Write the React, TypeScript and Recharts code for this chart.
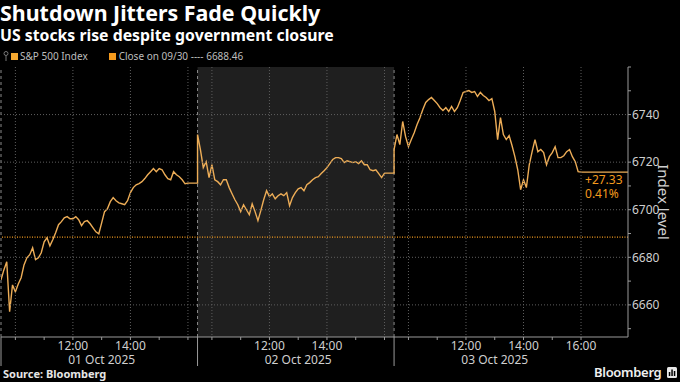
import React from "react";
import {
  ComposedChart, Line, XAxis, YAxis, ReferenceLine, ReferenceArea, ReferenceDot,
} from "recharts";

const SESSION_DATES = ["01 Oct 2025", "02 Oct 2025", "03 Oct 2025"];
const HOUR_TICKS = ["10:00", "11:00", "12:00", "13:00", "14:00", "15:00", "16:00"];
const TIME_LABELS = [["12:00", "14:00"], ["12:00", "14:00"], ["12:00", "14:00", "16:00"]];
const GRID_HOURS = ["10:00", "12:00", "14:00", "16:00"];
const DATE_AT = "13:00";
const Y_TICKS = [6650, 6660, 6670, 6680, 6690, 6700, 6710, 6720, 6730, 6740, 6750, 6760];
const Y_LABELED = [6660, 6680, 6700, 6720, 6740];
const PREV_CLOSE = 6688.46;

// S&P 500, one reading every 6 minutes from 09:30 to 16:00 (66 per session)
const oct01 = [
  6670.5, 6674.7, 6678.1, 6657.1, 6668.4, 6665.5, 6668.8, 6671.4, 6676.8, 6679.8,
  6681.1, 6684.0, 6679.0, 6679.8, 6681.9, 6686.5, 6688.2, 6684.8, 6687.4, 6690.3,
  6693.7, 6695.0, 6696.6, 6697.1, 6696.2, 6696.2, 6697.1, 6695.8, 6693.3, 6695.0,
  6695.4, 6694.1, 6692.4, 6690.7, 6689.9, 6694.5, 6699.2, 6700.4, 6703.4, 6705.1,
  6703.8, 6702.9, 6702.5, 6702.1, 6703.8, 6707.2, 6709.3, 6710.5, 6711.0, 6711.8,
  6713.1, 6714.7, 6716.0, 6717.3, 6716.0, 6717.3, 6716.8, 6714.7, 6713.1, 6712.6,
  6716.0, 6714.7, 6713.9, 6712.6, 6710.9, 6711.2,
];
const oct02 = [
  6731.6, 6725.3, 6717.7, 6720.2, 6713.5, 6719.0, 6712.6, 6711.8, 6710.5, 6712.6,
  6712.6, 6709.3, 6706.7, 6704.2, 6702.1, 6699.2, 6702.1, 6700.0, 6697.9, 6702.5,
  6699.2, 6695.4, 6699.6, 6704.2, 6708.0, 6705.5, 6706.7, 6704.6, 6705.9, 6706.7,
  6705.9, 6707.2, 6701.7, 6705.1, 6707.2, 6708.8, 6709.3, 6708.0, 6710.5, 6711.4,
  6712.6, 6713.5, 6713.9, 6715.2, 6716.4, 6717.7, 6719.4, 6721.1, 6721.9, 6721.9,
  6721.5, 6719.8, 6720.6, 6720.2, 6719.8, 6720.2, 6719.4, 6720.6, 6718.9, 6718.9,
  6716.8, 6716.4, 6716.8, 6715.2, 6713.5, 6715.4,
];
const oct03 = [
  6725.3, 6731.6, 6727.4, 6737.1, 6730.7, 6726.5, 6729.5, 6732.4, 6735.8, 6738.7,
  6742.1, 6745.1, 6746.3, 6747.2, 6745.9, 6744.6, 6742.9, 6741.7, 6742.9, 6741.3,
  6743.4, 6741.3, 6742.9, 6745.9, 6749.3, 6749.7, 6750.1, 6749.3, 6749.7, 6747.6,
  6749.3, 6748.0, 6747.2, 6745.9, 6746.7, 6741.3, 6729.5, 6738.7, 6731.6, 6729.5,
  6731.2, 6727.0, 6722.3, 6716.8, 6708.4, 6712.6, 6709.3, 6718.9, 6724.4, 6729.5,
  6724.4, 6725.3, 6724.0, 6718.9, 6722.3, 6724.0, 6726.5, 6721.9, 6721.9, 6722.7,
  6724.4, 6725.3, 6722.3, 6720.2, 6716.0, 6715.79,
];
const SESSIONS = [oct01, oct02, oct03];

const STEP = 6;      // minutes between readings
const SLOT = 410;    // minutes of axis given to each session
const X_END = 1308;  // right edge of the plot, in axis minutes

const MARGIN = { top: 67, right: 2, bottom: 15, left: 1 };
const LINE = "#EDAD57";
const ORANGE = "#F39A1E";
const AXIS = "#9a9a9a";
const GRID = "#5e5e5e";
const TEXT = "#cfcfcf";
const FONT = "'Noto Sans', sans-serif";

const mins = (hhmm: string) => {
  const [h, m] = hhmm.split(":").map(Number);
  return (h - 9) * 60 + m - 30;
};

const data: { t: number; v: number }[] = [];
SESSIONS.forEach((vals, d) => {
  vals.forEach((v, i) => data.push({ t: d * SLOT + i * STEP, v }));
  // level is held after the close until the next session starts
  data.push({ t: d < SESSIONS.length - 1 ? (d + 1) * SLOT : X_END, v: vals[vals.length - 1] });
});

const LAST = oct03[oct03.length - 1];
const change = LAST - PREV_CLOSE;
const changeText = `${change >= 0 ? "+" : ""}${change.toFixed(2)}`;
const pctText = `${((change / PREV_CLOSE) * 100).toFixed(2)}%`;

type TickInfo = { edge?: boolean; grid?: boolean; time?: string; date?: string };
const xTickInfo = new Map<number, TickInfo>();
SESSION_DATES.forEach((date, d) => {
  xTickInfo.set(d * SLOT, { edge: true });
  HOUR_TICKS.forEach((h) => {
    xTickInfo.set(d * SLOT + mins(h), {
      grid: GRID_HOURS.includes(h),
      time: TIME_LABELS[d].includes(h) ? h : undefined,
      date: h === DATE_AT ? date : undefined,
    });
  });
});
const X_TICKS = [...xTickInfo.keys()].sort((a, b) => a - b);

// ticks also carry the dotted grid, so grid lines sit exactly on the axis scale
function XTick(props: any) {
  const { x, y, payload } = props;
  const info = xTickInfo.get(payload.value) || {};
  return (
    <g>
      {info.grid && <line x1={x} x2={x} y1={MARGIN.top} y2={y} stroke={GRID} strokeDasharray="1 2" />}
      <line x1={x} x2={x} y1={y} y2={y + (info.edge ? 29 : 3)} stroke={AXIS} />
      {info.time && (
        <text x={x} y={y + 12.5} textAnchor="middle" fill={TEXT} fontSize={12} fontFamily={FONT}>{info.time}</text>
      )}
      {info.date && (
        <text x={x} y={y + 26.5} textAnchor="middle" fill={TEXT} fontSize={12} fontFamily={FONT}>{info.date}</text>
      )}
    </g>
  );
}

function YTick(props: any) {
  const { x, y, payload } = props;
  const v = payload.value;
  const labeled = Y_LABELED.includes(v);
  return (
    <g>
      {labeled && <line x1={MARGIN.left} x2={x} y1={y} y2={y} stroke={GRID} strokeDasharray="1 2" />}
      <line x1={x} x2={x + 3} y1={y} y2={y} stroke={AXIS} />
      {labeled && (
        <text x={x + 4} y={y + 4.3} fill={TEXT} fontSize={12} fontFamily={FONT}>{v}</text>
      )}
    </g>
  );
}

function AxisTitle(props: any) {
  const { x, y, width, height } = props.viewBox;
  const cx = x + width - 14;
  const cy = y + height / 2;
  return (
    <text x={cx} y={cy} transform={`rotate(90 ${cx} ${cy})`} textAnchor="middle" dominantBaseline="central"
      fill={TEXT} fontSize={15} fontFamily={FONT}>
      Index level
    </text>
  );
}

function ChangeLabel(props: any) {
  const { cx, cy } = props;
  return (
    <g fontFamily={FONT} fontSize={12} fill={ORANGE}>
      <text x={cx + 4} y={cy + 12}>{changeText}</text>
      <text x={cx + 4} y={cy + 26}>{pctText}</text>
    </g>
  );
}

const abs = (left: number, top: number, extra: React.CSSProperties = {}): React.CSSProperties => ({
  position: "absolute", left, top, whiteSpace: "nowrap", fontFamily: FONT, ...extra,
});

export default function App() {
  return (
    <div style={{ position: "absolute", left: 0, top: 0, width: 680, height: 382, background: "#000", overflow: "hidden" }}>
      <div style={abs(0, 0, { fontSize: 21.4, lineHeight: "26px", fontWeight: 700, color: "#fff" })}>Shutdown Jitters Fade Quickly</div>
      <div style={abs(0, 26, { fontSize: 15.8, lineHeight: "18px", fontWeight: 700, color: "#fff" })}>US stocks rise despite government closure</div>

      <div style={abs(3, 50, { fontSize: 10, lineHeight: "12px", color: "#bdbdbd", display: "flex", alignItems: "center" })}>
        <svg width={6} height={10} style={{ marginRight: 2 }}>
          <circle cx={3} cy={2.5} r={2} fill="none" stroke="#777" />
          <line x1={3} x2={3} y1={4.5} y2={10} stroke="#777" />
        </svg>
        <span style={{ width: 7, height: 7, background: "#F5A830", marginRight: 2 }} />
        <span>S&amp;P 500 Index</span>
        <span style={{ width: 7, height: 7, background: ORANGE, marginLeft: 21, marginRight: 3 }} />
        <span>Close on 09/30 ---- 6688.46</span>
      </div>

      <div style={{ position: "absolute", left: 0, top: 0 }}>
        <ComposedChart width={680} height={382} data={data} margin={MARGIN}>
          <ReferenceArea x1={SLOT} x2={2 * SLOT} fill="#1f1f1f" fillOpacity={1} stroke="none" />
          <XAxis
            dataKey="t" type="number" domain={[0, X_END]} ticks={X_TICKS} interval={0}
            tick={<XTick />} tickLine={false} tickSize={0} tickMargin={0} height={30}
            axisLine={{ stroke: AXIS }} allowDataOverflow
          />
          <YAxis
            orientation="right" domain={[6646.5, 6760]} ticks={Y_TICKS} interval={0}
            tick={<YTick />} tickLine={false} tickSize={0} tickMargin={0} width={50}
            axisLine={{ stroke: AXIS }} allowDataOverflow label={<AxisTitle />}
          />
          {[0, SLOT, 2 * SLOT].map((t) => (
            <ReferenceLine key={`d${t}`} x={t} stroke="#8a8a8a" strokeDasharray="3 3" />
          ))}
          <ReferenceLine y={PREV_CLOSE} stroke={ORANGE} strokeWidth={1.2} strokeDasharray="1 1.5" />
          <Line dataKey="v" stroke={LINE} strokeWidth={1.4} dot={false} isAnimationActive={false} />
          <ReferenceDot x={2 * SLOT + mins("16:00")} y={LAST} r={0} shape={<ChangeLabel />} />
        </ComposedChart>
      </div>

      <div style={abs(3, 367, { fontSize: 11, lineHeight: "14px", fontWeight: 700, color: "#e6e6e6" })}>Source: Bloomberg</div>
      <div style={abs(594, 364, { fontSize: 13, lineHeight: "16px", fontWeight: 600, letterSpacing: -0.3, color: "#f0f0f0" })}>Bloomberg</div>
      <svg width={10} height={11} style={{ position: "absolute", left: 667, top: 367 }}>
        <rect x={0} y={0} width={10} height={11} rx={1.5} fill="#e8e8e8" />
        <rect x={1.8} y={5} width={1.5} height={4} fill="#000" />
        <rect x={4.3} y={2.5} width={1.5} height={6.5} fill="#000" />
        <rect x={6.8} y={4} width={1.5} height={5} fill="#000" />
      </svg>
    </div>
  );
}
